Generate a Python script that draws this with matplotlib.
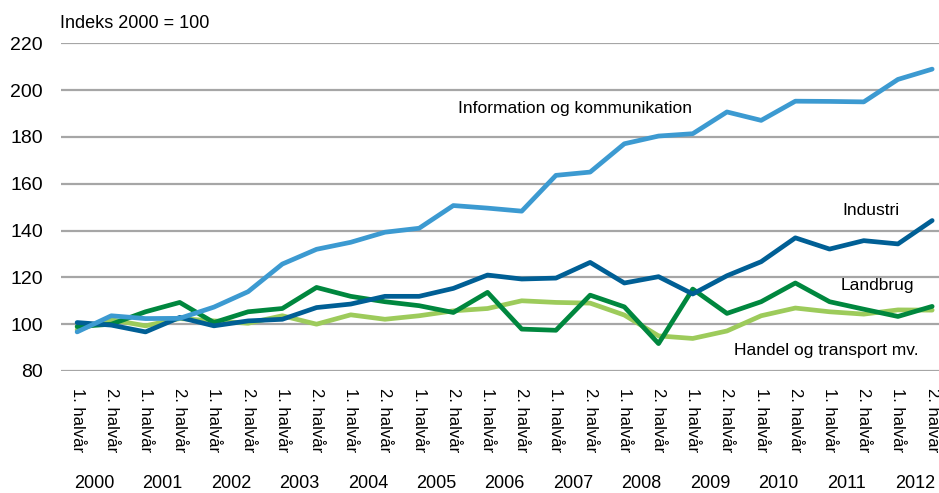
import matplotlib.pyplot as plt

plt.rcParams['font.family'] = ['Liberation Sans', 'DejaVu Sans']

#---Data (indeks 2000 = 100, halvår)
years = ['2000', '2001', '2002', '2003', '2004', '2005', '2006',
         '2007', '2008', '2009', '2010', '2011', '2012']
halves = ['1. halvår', '2. halvår']

info = [96.7, 103.6, 102.4, 102.5, 107.3, 113.9, 125.7, 132.0, 135.0, 139.3,
        141.0, 150.7, 149.6, 148.3, 163.6, 165.0, 177.1, 180.4, 181.4, 190.7,
        187.1, 195.3, 195.2, 195.0, 204.6, 209.0]
industri = [100.7, 99.6, 96.7, 102.9, 99.3, 101.4, 102.1, 107.1, 108.6, 111.9,
            111.9, 115.3, 121.0, 119.3, 119.7, 126.4, 117.6, 120.3, 112.9, 120.7,
            126.7, 136.9, 132.1, 135.7, 134.3, 144.3]
landbrug = [99.0, 100.0, 105.3, 109.3, 100.7, 105.3, 106.7, 115.7, 111.9, 109.6,
            107.9, 105.0, 113.6, 97.9, 97.4, 112.4, 107.4, 91.7, 115.0, 104.6,
            109.6, 117.6, 109.6, 106.4, 103.3, 107.6]
handel = [97.6, 101.9, 99.3, 102.4, 101.4, 100.4, 103.6, 100.0, 104.0, 102.1,
          103.6, 105.7, 106.7, 110.0, 109.3, 109.0, 103.9, 95.0, 93.9, 97.1,
          103.6, 106.9, 105.3, 104.3, 106.1, 106.0]

x = list(range(len(info)))
ticklabels = halves * len(years)

#---Plot
fig = plt.figure(figsize=(9.39, 4.93), dpi=100)
ax = fig.add_axes([0.065, 0.2475, 0.935, 0.6645])

ax.plot(x, handel, '-', color='#9DCB5B', lw=3.4, solid_capstyle='round')
ax.plot(x, landbrug, '-', color='#00873E', lw=3.4, solid_capstyle='round')
ax.plot(x, industri, '-', color='#005F95', lw=3.4, solid_capstyle='round')
ax.plot(x, info, '-', color='#3C9AD1', lw=3.4, solid_capstyle='round')

ax.set_ylim(80, 220)
ax.set_xlim(-0.47, 25.2)
ax.set_yticks(range(80, 221, 20))
ax.yaxis.grid(True, color='#A6A6A6', lw=1.6)
ax.set_axisbelow(True)
for s in ax.spines.values():
    s.set_visible(False)
ax.tick_params(axis='both', length=0, labelsize=14)
ax.tick_params(axis='y', pad=13)
ax.set_xticks(x)
ax.set_xticklabels(ticklabels, rotation=-90, fontsize=12, va='top', ha='center')
ax.tick_params(axis='x', pad=12)

#---Year labels
for i, yr in enumerate(years):
    ax.text(2 * i + 0.5, -0.342, yr, transform=ax.get_xaxis_transform(),
            ha='center', va='center', fontsize=13)

#---Series labels
ax.text(14.56, 192, 'Information og kommunikation', ha='center', va='center', fontsize=12.5)
ax.text(23.2, 148.4, 'Industri', ha='center', va='center', fontsize=12.5)
ax.text(23.4, 116.7, 'Landbrug', ha='center', va='center', fontsize=12.5)
ax.text(21.9, 88.6, 'Handel og transport mv.', ha='center', va='center', fontsize=12.5)

fig.text(60 / 939, 1 - 24 / 493, 'Indeks 2000 = 100', ha='left', va='center', fontsize=13)

plt.savefig('out.png', dpi=100)
